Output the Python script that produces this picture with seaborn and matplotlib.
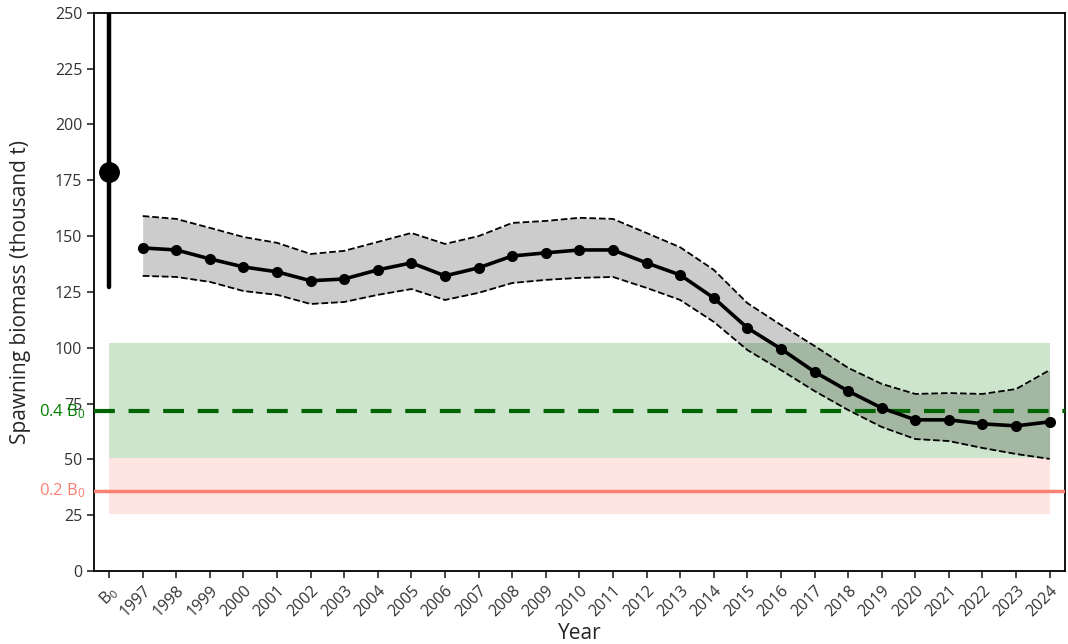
import numpy as np
import pandas as pd
import matplotlib
matplotlib.use("Agg")
import matplotlib.pyplot as plt
import seaborn as sns

years = list(range(1997, 2025))
biomass = [144.7, 143.8, 139.8, 136.2, 134.0, 130.0, 130.8, 134.9, 138.0, 132.2,
           135.8, 141.1, 142.5, 143.8, 143.8, 138.0, 132.6, 122.3, 108.9, 99.5,
           89.2, 80.6, 73.0, 67.7, 67.7, 65.9, 65.0, 66.8]
upper = [159.0, 157.7, 153.7, 149.6, 147.0, 142.0, 143.4, 147.4, 151.4, 146.5,
         150.0, 155.9, 156.8, 158.2, 157.7, 151.4, 145.0, 134.9, 120.0, 110.2,
         100.8, 91.0, 83.8, 79.3, 79.7, 79.3, 81.5, 90.0]
lower = [132.2, 131.7, 129.5, 125.4, 123.7, 119.6, 120.5, 123.7, 126.3, 121.4,
         124.6, 129.0, 130.4, 131.3, 131.7, 126.8, 121.4, 111.6, 99.0, 90.0,
         80.6, 72.1, 64.5, 59.1, 58.2, 55.1, 52.4, 50.2]
b0_value = 178.8
b0_low = 127.2
b0_high = 320.0
green_band = (50.6, 102.2)
pink_band = (25.5, 50.6)
target_frac = 0.4
limit_frac = 0.2
tick_labels = ["B$_0$"] + [str(y) for y in years]

sns.set_theme(style="ticks")
plt.rcParams['font.family'] = ['Open Sans', 'DejaVu Sans']
plt.rcParams['mathtext.fontset'] = 'custom'
plt.rcParams['mathtext.rm'] = 'Open Sans'
plt.rcParams['mathtext.it'] = 'Open Sans:italic'
plt.rcParams['mathtext.default'] = 'regular'

fig = plt.figure(figsize=(10.68, 6.44), dpi=100)
ax = fig.add_axes([0.088, 0.1134, 0.909, 0.8666])

pos = np.arange(1, len(years) + 1)
df = pd.DataFrame({"pos": pos, "biomass": biomass, "upper": upper, "lower": lower})

# reference bands
xb = [0, len(years)]
ax.fill_between(xb, green_band[0], green_band[1], color="green", alpha=0.2, lw=0, zorder=1)
ax.fill_between(xb, pink_band[0], pink_band[1], color="salmon", alpha=0.2, lw=0, zorder=1)

# uncertainty band
ax.fill_between(df["pos"], df["lower"], df["upper"], color="black", alpha=0.2, lw=0, zorder=2)
sns.lineplot(data=df, x="pos", y="upper", ax=ax, color="black", lw=1.3, linestyle="--", zorder=3)
sns.lineplot(data=df, x="pos", y="lower", ax=ax, color="black", lw=1.3, linestyle="--", zorder=3)

# reference lines
ax.axhline(target_frac * b0_value, color="darkgreen", lw=3, ls=(0, (5, 3.3)), zorder=4)
ax.axhline(limit_frac * b0_value, color="salmon", lw=2.5, zorder=4)

# main series
sns.lineplot(data=df, x="pos", y="biomass", ax=ax, color="black", lw=2.6,
             marker="o", markersize=8, markeredgewidth=0, zorder=5)

# B0 point
ax.plot([0, 0], [b0_low, b0_high], color="black", lw=3.2, zorder=5)
ax.plot([0], [b0_value], "o", color="black", markersize=14, zorder=6)

ax.set_xlim(-0.45, len(years) + 0.45)
ax.set_ylim(0, 250)
ax.set_yticks(np.arange(0, 251, 25))
ax.set_xticks(np.arange(0, len(years) + 1))
ax.set_xticklabels(tick_labels, rotation=45, ha="right", rotation_mode="anchor", fontsize=11.5, color="#333333")
ax.tick_params(axis="y", labelsize=11.5, labelcolor="#333333", length=5, width=1.2)
ax.tick_params(axis="x", length=5, width=1.2)
for s in ax.spines.values():
    s.set_color("black")
    s.set_linewidth(1.3)

ax.set_xlabel("Year", fontsize=15, labelpad=2)
ax.set_ylabel("Spawning biomass (thousand t)", fontsize=15)
ax.yaxis.set_label_coords(-0.065, 0.5)

ax.text(-0.009, target_frac * b0_value, "0.4 B$_0$", transform=ax.get_yaxis_transform(),
        ha="right", va="center", color="green", fontsize=12)
ax.text(-0.009, limit_frac * b0_value, "0.2 B$_0$", transform=ax.get_yaxis_transform(),
        ha="right", va="center", color="salmon", fontsize=12)

fig.savefig("out.png", dpi=100)
